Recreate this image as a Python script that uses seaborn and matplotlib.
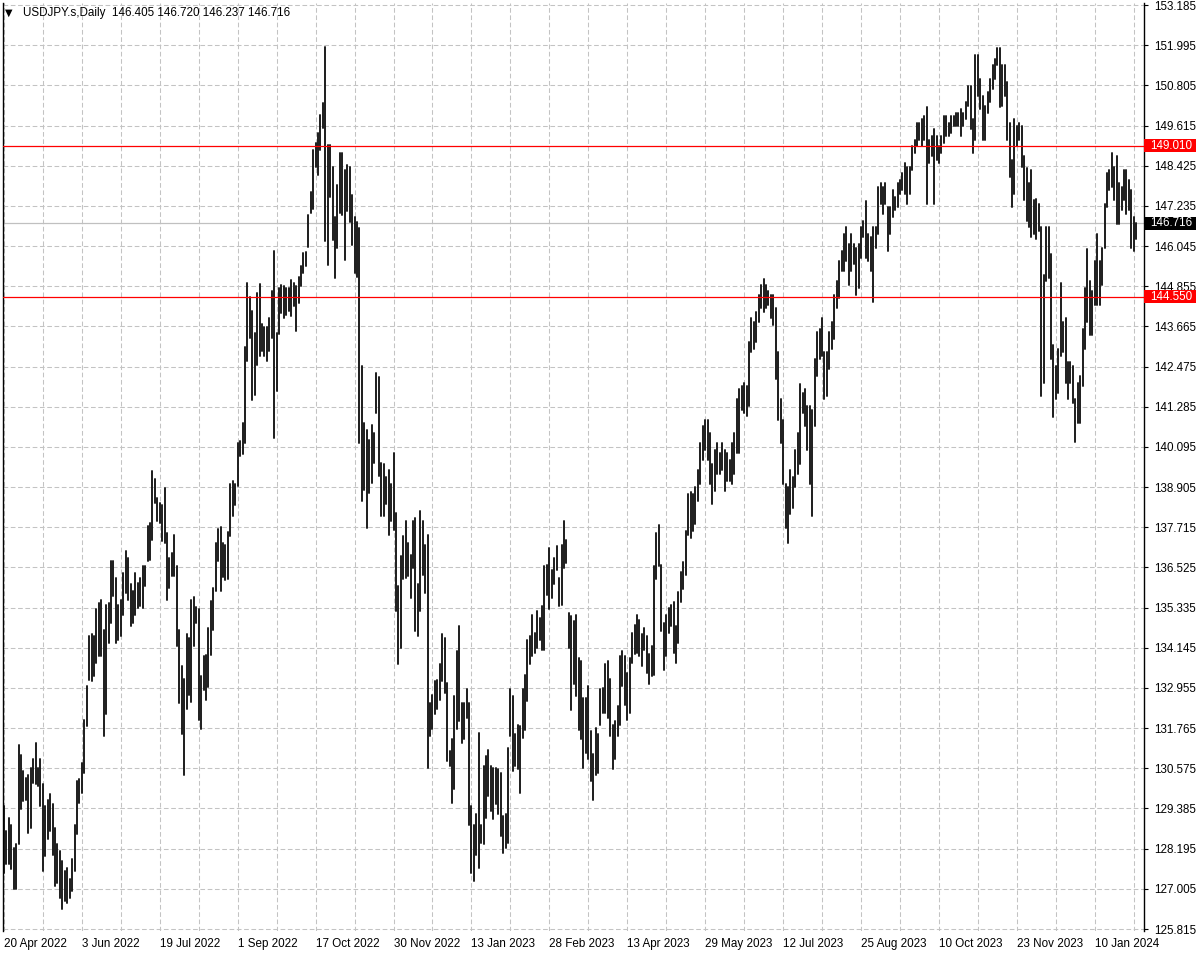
import numpy as np
import pandas as pd
import matplotlib
matplotlib.use("Agg")
import matplotlib.pyplot as plt
import matplotlib.transforms as mtransforms
from matplotlib.patches import Rectangle
import seaborn as sns

# ---------------- data ----------------
symbol = "USDJPY.s,Daily"
header_ohlc = ["146.405", "146.720", "146.237", "146.716"]

highs = [
    129.46, 128.72, 129.11, 128.91, 128.22, 128.32, 131.28, 130.98, 130.49, 130.29,
    130.39, 130.59, 130.84, 131.33, 130.59, 130.84, 130.10, 129.46, 129.65, 129.80,
    129.51, 128.81, 128.32, 128.12, 127.83, 127.53, 127.63, 127.29, 127.88, 128.91,
    130.20, 130.27, 130.74, 132.02, 133.01, 134.49, 134.54, 134.49, 135.30, 135.47,
    135.57, 134.68, 135.42, 135.47, 136.71, 136.71, 136.21, 135.42, 135.57, 136.36,
    137.00, 136.81, 136.02, 135.82, 136.36, 136.07, 136.21, 136.56, 136.56, 137.74,
    137.84, 139.37, 139.13, 138.58, 138.43, 138.38, 138.88, 137.55, 136.81, 136.95,
    137.50, 136.56, 134.68, 133.60, 133.21, 134.54, 134.44, 135.56, 135.64, 135.35,
    135.30, 133.30, 133.90, 133.92, 134.72, 135.53, 135.93, 137.25, 137.67, 137.72,
    137.25, 137.20, 137.57, 138.99, 139.10, 138.99, 140.21, 140.26, 140.79, 143.06,
    144.96, 144.54, 144.11, 143.48, 144.64, 144.93, 143.74, 143.64, 143.64, 143.90,
    144.70, 145.91, 143.48, 144.80, 144.90, 144.85, 144.80, 144.80, 145.05, 144.95,
    144.85, 145.14, 145.44, 145.83, 145.88, 146.97, 147.66, 148.89, 149.09, 149.39,
    149.93, 150.27, 151.95, 149.04, 149.04, 148.40, 146.92, 147.86, 148.79, 148.79,
    148.30, 148.45, 148.40, 147.56, 146.92, 146.77, 146.57, 142.48, 140.80, 140.60,
    140.31, 140.75, 140.50, 142.28, 142.18, 139.62, 139.60, 139.20, 139.40, 139.00,
    139.90, 138.14, 135.97, 136.86, 137.45, 137.89, 137.25, 136.90, 137.89, 137.99,
    136.02, 138.19, 137.89, 137.20, 137.50, 132.51, 132.76, 133.16, 133.20, 133.65,
    134.54, 134.44, 133.11, 131.08, 131.43, 132.71, 134.04, 134.78, 132.51, 132.51,
    132.91, 132.51, 129.46, 128.91, 129.21, 131.63, 128.91, 130.64, 130.94, 131.13,
    130.64, 130.59, 130.59, 130.54, 130.44, 129.16, 129.21, 131.18, 132.91, 132.71,
    131.58, 131.87, 131.82, 132.91, 133.35, 134.39, 134.49, 135.13, 134.59, 135.23,
    135.03, 135.38, 136.56, 136.61, 137.10, 136.46, 136.81, 137.15, 136.21, 137.20,
    137.91, 137.35, 135.18, 135.08, 134.93, 135.13, 133.85, 133.75, 132.66, 132.66,
    133.01, 131.68, 130.99, 131.77, 131.58, 132.91, 132.96, 133.65, 133.75, 133.21,
    131.87, 131.97, 132.42, 133.90, 134.04, 133.90, 133.40, 133.85, 134.59, 134.83,
    135.13, 134.98, 134.54, 134.73, 134.49, 133.95, 134.19, 136.56, 137.55, 137.79,
    136.61, 134.88, 135.13, 135.33, 135.40, 135.50, 134.80, 135.80, 136.40, 136.70,
    137.60, 138.70, 138.75, 138.70, 138.90, 139.40, 140.20, 140.70, 140.90, 140.90,
    140.50, 139.60, 140.00, 140.20, 139.90, 140.20, 140.00, 139.90, 139.70, 140.20,
    140.50, 141.50, 141.80, 141.90, 142.00, 141.90, 143.20, 143.90, 143.80, 144.10,
    144.60, 144.90, 145.07, 144.90, 144.70, 144.60, 144.60, 144.20, 142.90, 141.50,
    140.90, 139.00, 138.90, 139.40, 139.20, 140.00, 140.50, 141.96, 141.70, 141.80,
    141.30, 141.30, 141.20, 142.70, 143.50, 143.60, 143.90, 142.90, 142.90, 143.50,
    143.80, 144.60, 145.00, 145.60, 145.90, 146.40, 146.60, 146.10, 146.40, 146.10,
    146.00, 146.10, 146.60, 146.80, 147.37, 146.40, 146.30, 146.60, 146.60, 147.80,
    147.90, 147.80, 147.90, 147.20, 147.20, 147.70, 147.50, 147.90, 148.00, 148.20,
    148.50, 148.40, 148.40, 149.00, 149.20, 149.70, 149.70, 149.80, 149.90, 150.16,
    149.20, 149.30, 149.50, 149.30, 149.00, 149.30, 149.90, 149.90, 149.70, 149.90,
    149.90, 150.00, 150.00, 150.10, 150.00, 150.30, 150.80, 150.80, 149.80, 151.70,
    151.70, 151.00, 150.50, 150.20, 150.60, 151.00, 151.40, 151.60, 151.90, 151.90,
    151.40, 151.40, 150.90, 149.70, 148.60, 149.80, 149.60, 149.70, 149.60, 148.70,
    148.36, 147.90, 148.30, 147.40, 147.45, 147.30, 146.60, 145.20, 146.60, 146.60,
    145.80, 143.10, 142.50, 143.00, 144.96, 143.80, 143.90, 142.60, 142.60, 142.50,
    141.50, 142.00, 142.20, 143.60, 144.80, 145.97, 145.00, 144.70, 145.60, 146.40,
    145.60, 146.00, 147.30, 148.20, 148.30, 148.80, 148.40, 148.70, 147.90, 147.80,
    148.30, 148.30, 148.00, 147.70, 146.90, 146.72,
]

lows = [
    127.48, 127.73, 127.73, 127.58, 126.99, 126.99, 128.32, 129.36, 129.60, 129.65,
    128.67, 128.81, 130.15, 130.10, 130.05, 129.46, 127.53, 127.97, 128.47, 128.72,
    128.02, 127.09, 127.19, 126.74, 126.40, 126.64, 126.59, 126.74, 126.94, 127.53,
    128.62, 129.55, 129.85, 130.44, 131.82, 133.20, 133.16, 133.30, 133.70, 133.90,
    133.90, 131.53, 132.17, 134.29, 134.88, 135.67, 134.29, 134.39, 134.49, 135.13,
    135.77, 135.57, 134.78, 134.88, 135.13, 135.33, 135.38, 135.33, 135.97, 136.71,
    136.76, 137.35, 138.43, 137.89, 137.84, 137.30, 137.25, 135.57, 135.92, 136.26,
    136.26, 134.19, 132.51, 131.58, 130.39, 132.32, 132.76, 132.55, 134.20, 134.87,
    132.02, 131.75, 132.90, 132.60, 132.97, 133.92, 134.66, 135.82, 136.72, 135.82,
    136.25, 136.14, 136.19, 137.46, 138.04, 138.36, 138.94, 139.84, 139.89, 140.21,
    142.64, 143.32, 141.47, 141.63, 142.53, 142.79, 142.95, 142.79, 142.63, 142.95,
    143.32, 140.36, 141.74, 143.43, 144.06, 143.90, 144.01, 144.11, 143.96, 144.26,
    143.52, 144.35, 144.85, 145.24, 145.44, 146.03, 147.02, 147.15, 148.40, 148.15,
    148.89, 149.53, 146.18, 145.49, 147.51, 146.23, 145.10, 145.98, 147.02, 146.97,
    145.64, 147.07, 146.77, 146.08, 145.24, 145.14, 140.21, 138.48, 138.83, 137.69,
    138.73, 139.03, 139.62, 141.10, 139.22, 138.04, 138.04, 138.39, 137.50, 137.89,
    137.64, 135.23, 133.65, 134.14, 136.17, 136.21, 136.26, 135.62, 136.51, 134.64,
    134.49, 135.23, 136.31, 135.77, 130.59, 131.53, 131.73, 132.17, 132.32, 132.61,
    133.16, 132.81, 130.79, 130.64, 129.55, 129.95, 131.73, 131.97, 131.33, 131.43,
    132.07, 128.91, 127.48, 127.24, 128.02, 127.63, 128.37, 128.32, 129.11, 129.75,
    129.31, 129.06, 129.51, 129.21, 128.57, 128.08, 128.20, 128.37, 131.53, 130.49,
    130.64, 130.54, 129.85, 131.48, 131.72, 132.56, 133.65, 133.90, 133.99, 134.14,
    134.39, 134.09, 134.09, 135.72, 135.28, 135.62, 136.02, 136.46, 135.38, 135.42,
    136.51, 136.66, 134.14, 132.30, 133.06, 132.71, 131.72, 131.43, 130.59, 131.04,
    130.84, 130.20, 129.64, 130.39, 130.44, 131.87, 132.22, 132.22, 132.07, 131.53,
    130.54, 130.84, 131.53, 131.87, 133.01, 132.46, 132.02, 132.22, 133.70, 133.95,
    133.99, 133.90, 133.60, 134.09, 133.40, 133.06, 133.30, 133.35, 136.17, 136.56,
    134.64, 133.50, 133.90, 134.59, 134.80, 134.00, 133.70, 134.30, 135.50, 135.90,
    136.30, 137.50, 137.40, 137.60, 137.80, 138.50, 139.00, 139.70, 140.00, 139.70,
    139.00, 138.40, 138.80, 139.30, 139.30, 139.40, 138.80, 139.10, 139.10, 139.00,
    139.30, 139.90, 139.90, 141.20, 141.10, 141.00, 141.30, 142.90, 143.00, 143.20,
    143.80, 144.20, 144.10, 144.20, 144.30, 143.90, 143.70, 142.10, 140.90, 140.20,
    139.00, 137.70, 137.24, 138.10, 138.30, 138.90, 139.30, 139.60, 141.10, 140.70,
    140.00, 139.00, 138.05, 140.70, 142.20, 142.70, 142.80, 141.50, 141.60, 142.40,
    143.00, 143.30, 144.20, 144.50, 145.30, 145.30, 145.60, 144.90, 145.30, 145.50,
    144.60, 144.80, 145.70, 146.30, 145.70, 145.60, 145.30, 144.40, 146.00, 146.40,
    147.30, 147.00, 147.30, 145.90, 146.40, 146.90, 147.10, 147.20, 147.60, 147.70,
    147.60, 147.30, 147.60, 148.30, 148.80, 149.00, 149.20, 149.00, 149.20, 147.30,
    148.50, 148.70, 147.30, 148.60, 148.50, 148.80, 149.10, 149.30, 149.30, 149.40,
    149.60, 149.60, 149.60, 149.30, 149.60, 149.80, 150.20, 149.50, 148.80, 149.20,
    150.50, 150.10, 149.20, 149.20, 150.00, 150.30, 150.70, 151.00, 151.40, 150.15,
    150.20, 150.50, 149.20, 148.10, 147.20, 147.60, 149.00, 149.20, 148.40, 147.40,
    146.80, 146.60, 146.30, 146.40, 146.25, 146.50, 141.60, 142.00, 145.00, 145.10,
    142.70, 140.97, 141.50, 141.70, 142.80, 142.90, 142.00, 141.50, 142.00, 141.40,
    140.25, 140.80, 140.80, 141.90, 143.00, 143.80, 143.40, 143.40, 144.30, 144.30,
    144.30, 144.90, 146.00, 147.20, 147.70, 147.80, 147.40, 146.70, 146.70, 147.10,
    147.40, 147.00, 147.10, 146.00, 145.90, 146.24,
]

date_labels = ["20 Apr 2022", "3 Jun 2022", "19 Jul 2022", "1 Sep 2022",
               "17 Oct 2022", "30 Nov 2022", "13 Jan 2023", "28 Feb 2023",
               "13 Apr 2023", "29 May 2023", "12 Jul 2023", "25 Aug 2023",
               "10 Oct 2023", "23 Nov 2023", "10 Jan 2024"]
bars_per_label = 32
bars_per_grid = 16

price_labels = ["125.815", "127.005", "128.195", "129.385", "130.575", "131.765",
                "132.955", "134.145", "135.335", "136.525", "137.715", "138.905",
                "140.095", "141.285", "142.475", "143.665", "144.855", "146.045",
                "147.235", "148.425", "149.615", "150.805", "151.995", "153.185"]

level_lines = [149.010, 144.550]
level_labels = ["149.010", "144.550"]
bid_price = 146.716
bid_label = "146.716"

if len(highs) != len(lows):
    raise ValueError(f"length mismatch {len(highs)} {len(lows)}")

# ---------------- styling ----------------
sns.set_theme(style="white")
plt.rcParams["font.family"] = ["Liberation Sans", "DejaVu Sans"]
FS = 8.4

W, H = 1200, 958
fig = plt.figure(figsize=(W / 100, H / 100), dpi=100, facecolor="white")
ax_l, ax_r, ax_t, ax_b = 2.5, 1144.0, 3.0, 931.0
ax = fig.add_axes([ax_l / W, 1 - ax_b / H, (ax_r - ax_l) / W, (ax_b - ax_t) / H])
ax.set_facecolor("white")

n = len(highs)
df = pd.DataFrame({
    "bar": np.repeat(np.arange(n), 2),
    "price": np.column_stack([lows, highs]).ravel(),
})
sns.lineplot(data=df, x="bar", y="price", units="bar", estimator=None,
             sort=False, color="#1c1c1c", linewidth=1.4, ax=ax, legend=False,
             zorder=2)

# axes limits
px_per_bar = 2.435
x0_px = 3.9
ax.set_xlim((ax_l - x0_px) / px_per_bar, (ax_r - x0_px) / px_per_bar)
yvals = [float(s) for s in price_labels]
step = (yvals[-1] - yvals[0]) / (len(yvals) - 1)
px_per_step = (929 - 5) / (len(yvals) - 1)
per_px = step / px_per_step
ax.set_ylim(yvals[-1] - (ax_b - 5) * per_px, yvals[-1] + (5 - ax_t) * per_px)

# ticks
ax.yaxis.tick_right()
ax.set_yticks(yvals)
ax.set_yticklabels(price_labels)
xt = [bars_per_label * k for k in range(len(date_labels))]
ax.set_xticks(xt)
ax.set_xticklabels(date_labels, ha="left")
minor = [bars_per_grid + bars_per_label * k for k in range(len(date_labels))]
ax.set_xticks(minor, minor=True)
ax.tick_params(axis="x", which="minor", length=0)
ax.tick_params(axis="both", which="major", direction="out", length=3,
               width=0.8, color="black", labelsize=FS, labelcolor="black", pad=2)
ax.tick_params(axis="y", pad=4)
ax.set_xlabel("")
ax.set_ylabel("")

grid_kw = dict(color="#c3c3c3", linewidth=0.75, linestyle=(0, (4.5, 2.5)))
ax.grid(True, which="major", axis="y", **grid_kw)
ax.grid(True, which="both", axis="x", **grid_kw)
ax.set_axisbelow(True)

for side in ["top", "bottom"]:
    ax.spines[side].set_visible(False)
for side in ["left", "right"]:
    ax.spines[side].set_visible(True)
    ax.spines[side].set_color("black")
    ax.spines[side].set_linewidth(1.0)

# level and bid lines
ax.axhline(bid_price, color="#c0c0c0", linewidth=0.9, zorder=1)
for lv in level_lines:
    ax.axhline(lv, color="#ff0000", linewidth=0.9, zorder=3)

# right-hand price boxes
trans = mtransforms.blended_transform_factory(ax.transAxes, ax.transData)
box_w = 52 / (ax_r - ax_l)
box_h = 13 * per_px
for val, lab, fc in [(level_lines[0], level_labels[0], "#ff0000"),
                     (level_lines[1], level_labels[1], "#ff0000"),
                     (bid_price, bid_label, "#000000")]:
    ax.add_patch(Rectangle((1.0, val - box_h / 2), box_w, box_h, transform=trans,
                           facecolor=fc, edgecolor="none", clip_on=False, zorder=10))
    ax.text(1.0 + 6 / (ax_r - ax_l), val, lab, transform=trans, color="white",
            fontsize=FS, va="center", ha="left", clip_on=False, zorder=11)

# header
fig.text(5 / W, 1 - 13 / H, "\u25bc", fontsize=7, color="black", va="center",
         ha="left", family=["DejaVu Sans"])
fig.text(23 / W, 1 - 13 / H, symbol + "  " + " ".join(header_ohlc),
         fontsize=FS, color="black", va="center", ha="left")

fig.savefig("out.png", dpi=100, facecolor="white")
